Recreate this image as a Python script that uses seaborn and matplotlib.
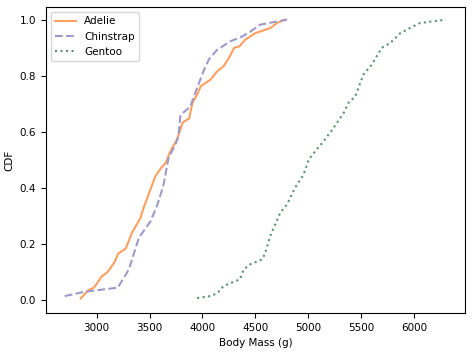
import pandas as pd
import seaborn as sns
import matplotlib.pyplot as plt

# CDF points, one pair of lists per species
adelie_mass = [2850, 2925, 2975, 3050, 3100, 3170, 3205, 3275, 3335, 3415, 3450, 3480,
               3555, 3610, 3650, 3705, 3760, 3785, 3815, 3875, 3905, 3950, 3985, 4075,
               4140, 4200, 4260, 4300, 4350, 4405, 4500, 4640, 4705, 4775]
adelie_cdf = [0.007, 0.037, 0.045, 0.086, 0.099, 0.136, 0.167, 0.184, 0.241, 0.294, 0.336, 0.365,
              0.442, 0.472, 0.488, 0.537, 0.573, 0.602, 0.634, 0.648, 0.703, 0.733, 0.763, 0.786,
              0.816, 0.834, 0.870, 0.900, 0.905, 0.929, 0.952, 0.970, 0.988, 1.0]

chinstrap_mass = [2700, 2880, 3200, 3305, 3400, 3510, 3570, 3630, 3680, 3745, 3775, 3792,
                  3885, 3950, 4010, 4060, 4140, 4265, 4375, 4455, 4545, 4655, 4800]
chinstrap_cdf = [0.015, 0.030, 0.045, 0.110, 0.223, 0.282, 0.336, 0.407, 0.508, 0.555, 0.587, 0.660,
                 0.690, 0.757, 0.816, 0.858, 0.893, 0.923, 0.940, 0.958, 0.982, 0.990, 1.0]

gentoo_mass = [3950, 4075, 4140, 4200, 4355, 4390, 4450, 4565, 4595, 4640, 4735, 4800,
               4875, 4955, 5005, 5065, 5145, 5240, 5335, 5380, 5445, 5520, 5600, 5695,
               5775, 5870, 5960, 6055, 6300]
gentoo_cdf = [0.008, 0.015, 0.025, 0.051, 0.075, 0.110, 0.128, 0.146, 0.170, 0.229, 0.312, 0.342,
              0.401, 0.448, 0.502, 0.531, 0.567, 0.615, 0.668, 0.704, 0.727, 0.804, 0.840, 0.900,
              0.917, 0.952, 0.970, 0.988, 1.0]

species = ['Adelie', 'Chinstrap', 'Gentoo']
colors = ['#fd9f60', '#9e9ac8', '#5b9070']
styles = ['-', '--', ':']

# long table for seaborn
df = pd.concat([
    pd.DataFrame({'mass': adelie_mass, 'cdf': adelie_cdf, 'species': 'Adelie'}),
    pd.DataFrame({'mass': chinstrap_mass, 'cdf': chinstrap_cdf, 'species': 'Chinstrap'}),
    pd.DataFrame({'mass': gentoo_mass, 'cdf': gentoo_cdf, 'species': 'Gentoo'}),
], ignore_index=True)

f, ax = plt.subplots(figsize=(4.72, 3.52), dpi=100)
for sp, c, ls in zip(species, colors, styles):
    sub = df[df['species'] == sp]
    sns.lineplot(data=sub, x='mass', y='cdf', ax=ax, color=c, linestyle=ls,
                 linewidth=1.5, label=sp, sort=False)

ax.set_xlabel('Body Mass (g)', fontsize=7.5)
ax.set_ylabel('CDF', fontsize=7.5)
ax.tick_params(labelsize=7.5)
ax.set_xlim(2520, 6480)
ax.set_ylim(-0.045, 1.045)
ax.set_xticks([3000, 3500, 4000, 4500, 5000, 5500, 6000])
ax.legend(loc='upper left', fontsize=7.5)

f.subplots_adjust(left=0.097, right=0.985, bottom=0.111, top=0.98)
f.savefig('out.png', dpi=100)
